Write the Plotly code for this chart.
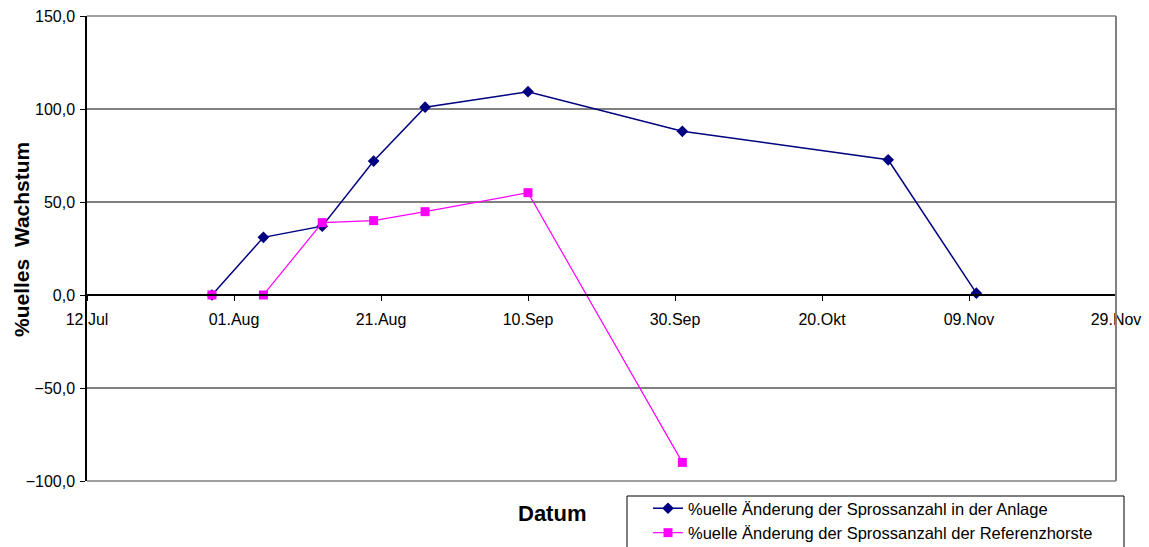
import plotly.graph_objects as go

# ---- data ----
anlage_dates = ["2004-07-29", "2004-08-05", "2004-08-13", "2004-08-20", "2004-08-27",
                "2004-09-10", "2004-10-01", "2004-10-29", "2004-11-10"]
anlage_values = [0.0, 31.0, 37.0, 72.0, 101.0, 109.3, 88.0, 72.7, 1.0]

referenz_dates = ["2004-07-29", "2004-08-05", "2004-08-13", "2004-08-20", "2004-08-27",
                  "2004-09-10", "2004-10-01"]
referenz_values = [0.0, 0.0, 38.9, 40.0, 44.8, 55.0, -90.0]

x_tick_dates = ["2004-07-12", "2004-08-01", "2004-08-21", "2004-09-10", "2004-09-30",
                "2004-10-20", "2004-11-09", "2004-11-29"]
x_tick_labels = ["12.Jul", "01.Aug", "21.Aug", "10.Sep", "30.Sep", "20.Okt", "09.Nov", "29.Nov"]
y_tick_vals = [-100, -50, 0, 50, 100, 150]

series_names = ["%uelle Änderung der Sprossanzahl in der Anlage",
                "%uelle Änderung der Sprossanzahl der Referenzhorste"]

FONT = "Liberation Sans, Arial, sans-serif"
W, H = 1149, 547

fig = go.Figure()
fig.add_trace(go.Scatter(
    x=anlage_dates, y=anlage_values, mode="lines+markers", name=series_names[0],
    line=dict(color="#000080", width=1.5),
    marker=dict(symbol="diamond", size=9, color="#000080"),
))
fig.add_trace(go.Scatter(
    x=referenz_dates, y=referenz_values, mode="lines+markers", name=series_names[1],
    line=dict(color="#FF00FF", width=1.2),
    marker=dict(symbol="square", size=9, color="#FF00FF"),
))

fig.update_layout(
    width=W, height=H,
    margin=dict(l=87, r=33, t=16, b=66, autoexpand=False),
    paper_bgcolor="white", plot_bgcolor="white",
    font=dict(family=FONT, size=16, color="black"),
    separators=",.",
    showlegend=True,
    legend=dict(
        xref="container", yref="container",
        x=648 / W, y=1 - 491 / H, xanchor="left", yanchor="top",
        bgcolor="rgba(0,0,0,0)", borderwidth=0,
        font=dict(family=FONT, size=16.5, color="black"),
        tracegroupgap=0,
    ),
    xaxis=dict(
        type="date",
        range=["2004-07-12", "2004-11-29"],
        tickvals=x_tick_dates, ticktext=x_tick_labels,
        showgrid=False, zeroline=False,
        showline=True, linecolor="black", linewidth=1.5,
        ticks="outside", ticklen=5, tickcolor="black", tickwidth=1,
        anchor="free", position=0.4,
        ticklabelstandoff=5,
        automargin=False,
        tickfont=dict(family=FONT, size=16, color="black"),
    ),
    yaxis=dict(
        range=[-100, 150],
        tickvals=y_tick_vals, tickformat=".1f",
        showgrid=True, gridcolor="#808080", gridwidth=1.5,
        zeroline=False,
        showline=True, linecolor="black", linewidth=1.5,
        ticks="outside", ticklen=5, tickcolor="black",
        ticklabelstandoff=2,
        automargin=False,
        tickfont=dict(family=FONT, size=16, color="black"),
    ),
    shapes=[
        dict(type="line", xref="paper", yref="paper", x0=1, x1=1, y0=0, y1=1,
             line=dict(color="#808080", width=2)),
        dict(type="line", xref="paper", yref="paper", x0=0, x1=1, y0=1, y1=1,
             line=dict(color="#808080", width=1.5)),
        dict(type="line", xref="paper", yref="paper", x0=0, x1=1, y0=0, y1=0,
             line=dict(color="#808080", width=1.5)),
        dict(type="rect", xref="paper", yref="paper",
             x0=(627 - 87) / 1029, x1=(1124 - 87) / 1029,
             y0=-(496 - 481) / 465, y1=-0.3,
             line=dict(color="black", width=1), fillcolor="rgba(0,0,0,0)"),
    ],
    annotations=[
        dict(text="<b>Datum</b>", xref="paper", yref="paper",
             x=(552 - 87) / 1029, y=-(513 - 481) / 465,
             xanchor="center", yanchor="middle", showarrow=False,
             font=dict(family=FONT, size=22, color="black")),
        dict(text="<b>%uelles  Wachstum</b>", xref="paper", yref="paper",
             x=(21 - 87) / 1029, y=(481 - 240) / 465,
             xanchor="center", yanchor="middle", showarrow=False, textangle=-90,
             font=dict(family=FONT, size=21, color="black")),
    ],
)

fig.write_html("out.html")
